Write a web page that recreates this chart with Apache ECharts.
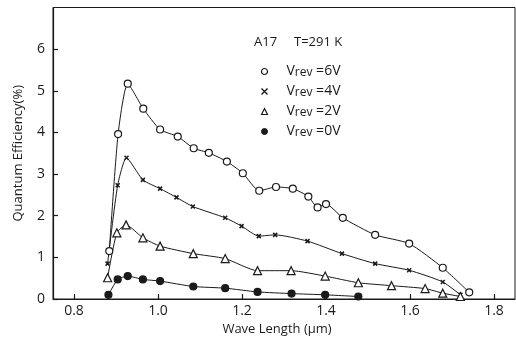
<!DOCTYPE html>
<html>
<head>
<meta charset="utf-8">
<script src="https://cdn.jsdelivr.net/npm/echarts@6/dist/echarts.min.js"></script>
<style>
html,body{margin:0;padding:0;background:#fff;}
#chart{width:516px;height:341px;}
</style>
</head>
<body>
<div id="chart"></div>
<script>
// ---- data ----
const xTickLabels = [0.8, 1.0, 1.2, 1.4, 1.6, 1.8];
const yTickLabels = [0, 1, 2, 3, 4, 5, 6];

const seriesNames = ['Vrev=6V', 'Vrev=4V', 'Vrev=2V', 'Vrev=0V'];

const v6x = [0.884, 0.905, 0.928, 0.965, 1.005, 1.047, 1.085, 1.121, 1.164, 1.202, 1.241, 1.281, 1.321, 1.358, 1.380, 1.400, 1.440, 1.517, 1.598, 1.678, 1.741];
const v6y = [1.15, 3.96, 5.17, 4.57, 4.07, 3.90, 3.62, 3.51, 3.30, 3.02, 2.60, 2.69, 2.65, 2.46, 2.20, 2.28, 1.95, 1.54, 1.33, 0.75, 0.16];

const v4x = [0.880, 0.904, 0.925, 0.964, 1.005, 1.044, 1.083, 1.160, 1.199, 1.240, 1.279, 1.356, 1.438, 1.517, 1.598, 1.678, 1.720];
const v4y = [0.85, 2.73, 3.39, 2.86, 2.65, 2.44, 2.22, 1.95, 1.75, 1.51, 1.54, 1.39, 1.09, 0.85, 0.69, 0.41, 0.10];

const v2x = [0.880, 0.902, 0.924, 0.964, 1.005, 1.084, 1.160, 1.237, 1.317, 1.398, 1.477, 1.556, 1.636, 1.678, 1.720];
const v2y = [0.51, 1.59, 1.78, 1.47, 1.27, 1.09, 0.97, 0.68, 0.68, 0.55, 0.39, 0.32, 0.25, 0.14, 0.06];

const v0x = [0.882, 0.904, 0.928, 0.964, 1.005, 1.084, 1.160, 1.237, 1.318, 1.398, 1.477];
const v0y = [0.10, 0.47, 0.55, 0.47, 0.43, 0.30, 0.26, 0.17, 0.13, 0.10, 0.06];

const pairs = (xs, ys) => xs.map((x, i) => [x, ys[i]]);

const FONT = '"Open Sans", "DejaVu Sans", sans-serif';
const INK = '#1a1a1a';
const crossPath = 'path://M0,0L10,10M10,0L0,10';

function lineSeries(name, data, symbol, size, fill, extra) {
  return Object.assign({
    name: name,
    type: 'line',
    data: data,
    symbol: symbol,
    symbolSize: size,
    showSymbol: true,
    smooth: 0.2,
    lineStyle: { color: INK, width: 1 },
    itemStyle: { color: fill, borderColor: INK, borderWidth: 1.2 },
    emphasis: { disabled: true },
    animation: false,
    z: 3
  }, extra || {});
}

const chart = echarts.init(document.getElementById('chart'), null, { renderer: 'canvas' });

chart.setOption({
  backgroundColor: '#fff',
  animation: false,
  textStyle: { fontFamily: FONT, color: INK },
  title: {
    text: 'A17     T=291 K',
    left: 249,
    top: 31,
    textStyle: { fontFamily: FONT, fontSize: 13, fontWeight: 'normal', color: INK }
  },
  legend: {
    orient: 'vertical',
    left: 254,
    top: 57,
    itemWidth: 6,
    itemHeight: 6,
    itemGap: 3,
    selectedMode: false,
    data: [
      { name: seriesNames[0], icon: 'circle', itemStyle: { color: '#fff', borderColor: INK, borderWidth: 1.2 } },
      { name: seriesNames[1], icon: crossPath, itemStyle: { color: 'none', borderColor: INK, borderWidth: 1.4 } },
      { name: seriesNames[2], icon: 'triangle', itemStyle: { color: '#fff', borderColor: INK, borderWidth: 1.2 } },
      { name: seriesNames[3], icon: 'circle', itemStyle: { color: INK, borderColor: INK, borderWidth: 1 } }
    ],
    formatter: function (name) {
      const val = name.split('=')[1];
      return '{p|}{v|V}{s|rev}{v| =' + val + '}';
    },
    textStyle: {
      fontFamily: FONT,
      color: INK,
      rich: {
        p: { width: 14 },
        v: { fontSize: 14, fontFamily: FONT, color: INK, lineHeight: 15, verticalAlign: 'top' },
        s: { fontSize: 12, fontFamily: FONT, color: INK, lineHeight: 15, verticalAlign: 'bottom', padding: [5, 0, 0, 0] }
      }
    }
  },
  grid: {
    left: 53,
    right: 1,
    top: 7.5,
    bottom: 41.7,
    show: true,
    borderColor: INK,
    borderWidth: 1,
    backgroundColor: 'transparent'
  },
  xAxis: {
    type: 'value',
    min: 0.75,
    max: 1.85,
    name: 'Wave Length (µm)',
    nameLocation: 'middle',
    nameGap: 24,
    nameTextStyle: { fontFamily: FONT, fontSize: 13, color: INK, padding: [0, 14, 0, 0] },
    axisLine: { show: true, lineStyle: { color: INK, width: 1.2 } },
    axisTick: { show: true, inside: true, length: 5, customValues: xTickLabels, lineStyle: { color: INK, width: 1.2 } },
    axisLabel: {
      customValues: xTickLabels,
      formatter: v => v.toFixed(1),
      fontFamily: FONT, fontSize: 14, color: INK, margin: 5
    },
    splitLine: { show: false }
  },
  yAxis: {
    type: 'value',
    min: 0,
    max: 7,
    interval: 1,
    name: 'Quantum Efficiency(%)',
    nameLocation: 'middle',
    nameGap: 28,
    nameRotate: 90,
    nameTextStyle: { fontFamily: FONT, fontSize: 13, color: INK },
    axisLine: { show: true, lineStyle: { color: INK, width: 1.2 } },
    axisTick: { show: true, inside: true, length: 5, customValues: yTickLabels, lineStyle: { color: INK, width: 1.2 } },
    axisLabel: {
      customValues: yTickLabels,
      fontFamily: FONT, fontSize: 14, color: INK, margin: 8
    },
    splitLine: { show: false }
  },
  series: [
    lineSeries(seriesNames[0], pairs(v6x, v6y), 'circle', 7, '#fff'),
    lineSeries(seriesNames[1], pairs(v4x, v4y), crossPath, 4, 'none',
      { itemStyle: { color: 'none', borderColor: INK, borderWidth: 1.5 } }),
    lineSeries(seriesNames[2], pairs(v2x, v2y), 'triangle', 8, '#fff'),
    lineSeries(seriesNames[3], pairs(v0x, v0y), 'circle', 7, INK)
  ]
});
</script>
</body>
</html>
